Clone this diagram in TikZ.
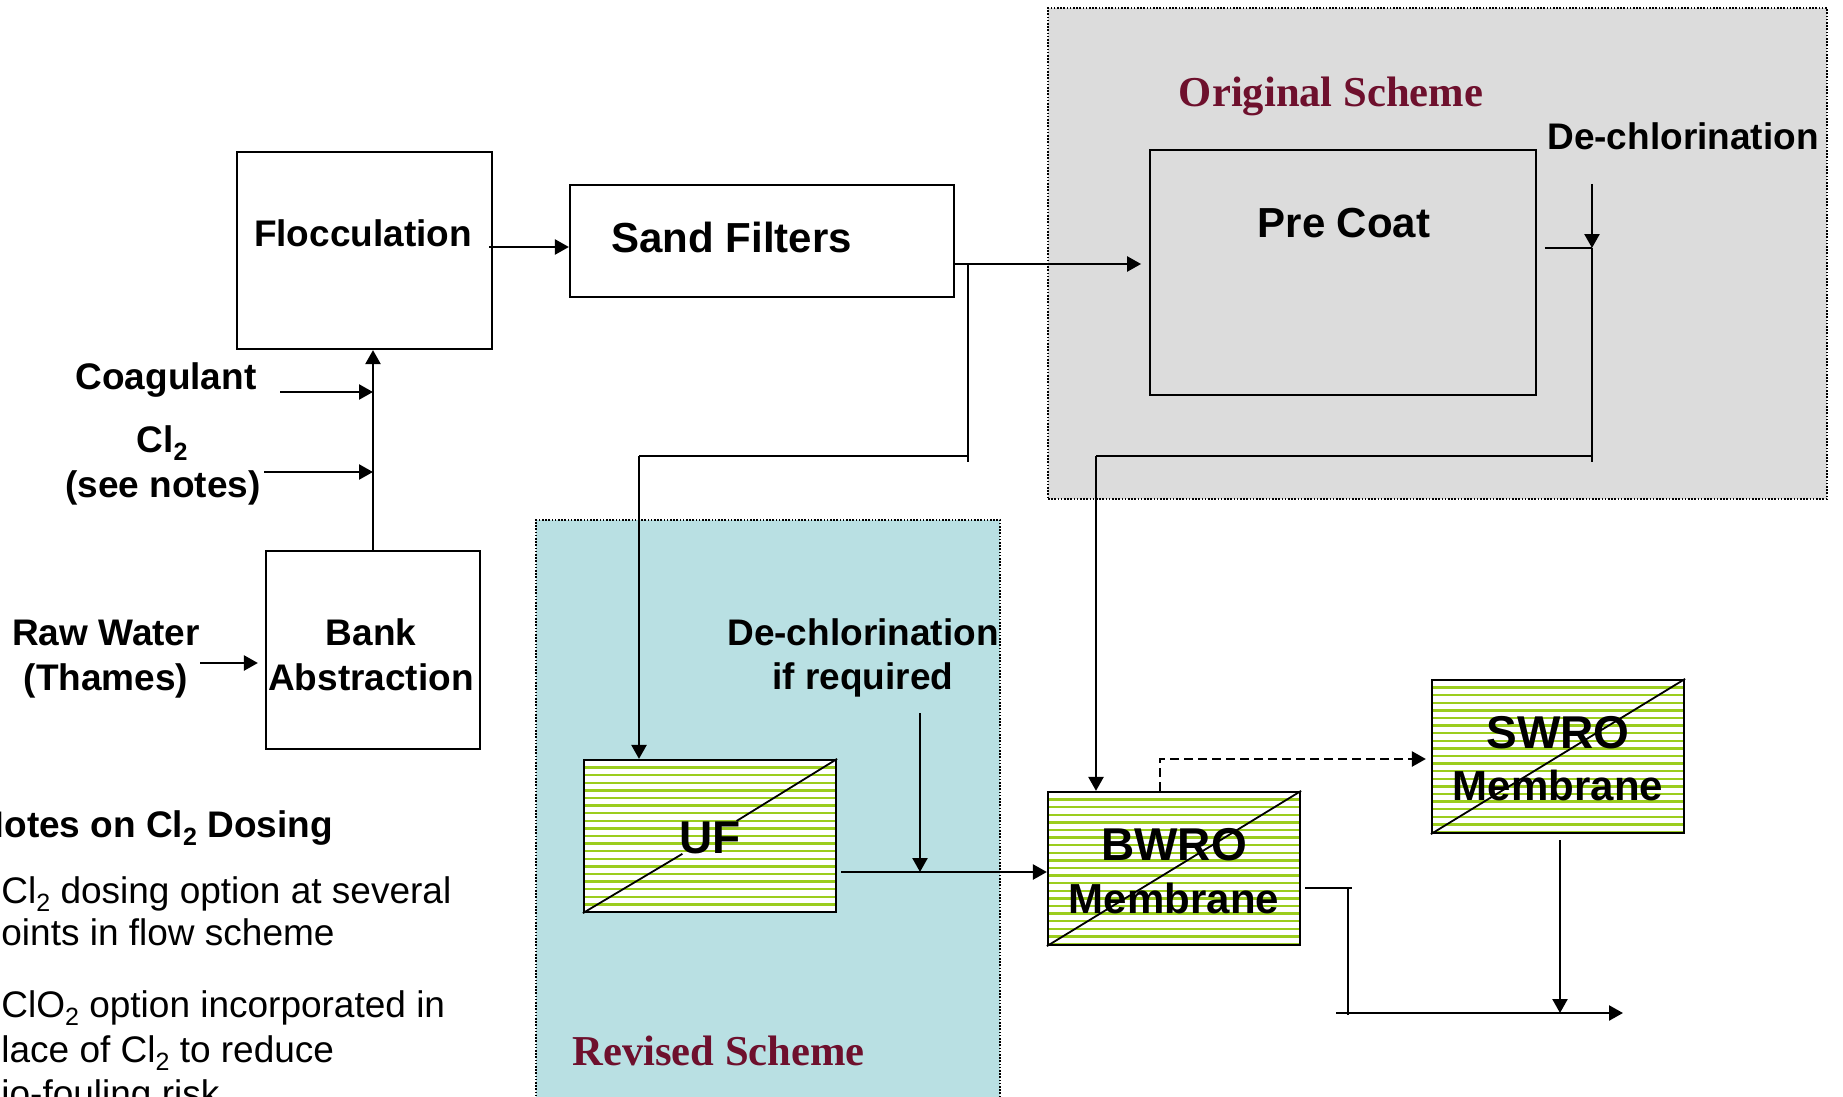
\documentclass[tikz,border=0pt]{standalone}
\usepackage{fontspec}
\setmainfont{Liberation Sans}
\newfontfamily\schemefont{Liberation Serif}
\usetikzlibrary{arrows.meta,fit}
\definecolor{graybg}{RGB}{220,220,220}
\definecolor{bluebg}{RGB}{185,224,227}
\definecolor{stripecol}{RGB}{155,205,30}
\definecolor{schemered}{RGB}{110,16,45}
\newcommand{\subtwo}{\raisebox{-4pt}{\fontsize{12.5}{12.5}\selectfont 2}}
\begin{document}
\begin{tikzpicture}[x=0.5pt,y=-0.5pt,
  box/.style={draw, line width=1.1pt, inner sep=0pt},
  membrane/.style={box, fill=white, path picture={
      \foreach \k in {1,...,21}{
        \draw[stripecol, line width=1.2pt]
          ([yshift=-\k*3.8pt]path picture bounding box.north west) -- ++(300,0);}
    }},
  region/.style={inner sep=0pt, draw, line width=0.8pt, dash pattern=on 0.8pt off 0.8pt},
  conn/.style={line width=1.2pt},
  arr/.style={conn, -{Triangle[length=7pt,width=7.5pt]}},
  diag/.style={line width=0.9pt},
  lbl/.style={font=\fontsize{18.5}{22}\selectfont\bfseries, inner sep=0pt, anchor=base},
  lblB/.style={font=\fontsize{21}{25}\selectfont\bfseries, inner sep=0pt, anchor=base},
  lblC/.style={font=\fontsize{23}{27}\selectfont\bfseries, inner sep=0pt, anchor=base},
  notetxt/.style={font=\fontsize{18.5}{22}\selectfont, inner sep=0pt, anchor=base west},
  notehead/.style={font=\fontsize{18.5}{22}\selectfont\bfseries, inner sep=0pt, anchor=base west},
  schemetxt/.style={font=\schemefont\fontsize{21.3}{25}\selectfont\bfseries, text=schemered, inner sep=0pt, anchor=base}
]
\path[use as bounding box] (0,0) rectangle (1843,1097);
\clip (0,0) rectangle (1843,1097);
\fill[white] (0,0) rectangle (1843,1097);

% scheme regions
\node[region, fill=graybg, fit={(1048,8) (1827,499)}] (orig) {};
\node[region, fill=bluebg, fit={(536,520) (1000,1110)}] (rev) {};

% process boxes
\node[box, fit={(237,152) (492,349)}] (floc) {};
\node[box, fit={(570,185) (954,297)}] (sand) {};
\node[box, line width=0.9pt, fit={(1150,150) (1536,395)}] (pre) {};
\node[box, fit={(266,551) (480,749)}] (bank) {};
\node[membrane, fit={(584,760) (836,912)}] (uf) {};
\node[membrane, fit={(1048,792) (1300,945)}] (bwro) {};
\node[membrane, fit={(1432,680) (1684,833)}] (swro) {};

% labels in membrane boxes (needed for diagonals)
\node[lblC] (uflbl) at (710,853) {UF};
\draw[diag] (uf.south west) -- (uflbl);
\draw[diag] (uf.north east) -- (uflbl);
\draw[diag] (bwro.south west) -- (bwro.north east);
\draw[diag] (swro.south west) -- (swro.north east);

% connectors
\draw[arr] (bank.north) -- (bank.north |- floc.south);
\coordinate (coagS) at (280,392);
\draw[arr] (coagS) -- (coagS -| bank.north);
\coordinate (clS) at (264,472);
\draw[arr] (clS) -- (clS -| bank.north);
\coordinate (rawS) at (200,663);
\draw[arr] (rawS) -- ([xshift=-3.5pt]rawS -| bank.west);
\draw[arr] ([xshift=-2pt]floc.east |- 0,247) -- (sand.west |- 0,247);

\coordinate (sfo) at (954,264);
\draw[arr] (sfo) -- ([xshift=-4pt]sfo -| pre.west);
\coordinate (s1) at (968,264);
\coordinate (s2) at (968,456);
\coordinate (s3) at (639,456);
\draw[conn] (s1) -- ([yshift=-3pt]s2);
\draw[conn] (s2) -- (s3);
\draw[arr] (s3) -- (s3 |- uf.north);

\coordinate (p1) at (1592,248);
\coordinate (p2) at (1592,456);
\coordinate (p3) at (1096,456);
\coordinate (dcS) at (1592,184);
\draw[conn] ([xshift=4pt]pre.east |- p1) -- (p1);
\draw[arr] (dcS) -- (p1);
\draw[conn] (p1) -- ([yshift=-3pt]p2);
\draw[conn] (p2) -- (p3);
\draw[arr] (p3) -- (p3 |- bwro.north);

\coordinate (u1) at (920,872);
\coordinate (dc2S) at (920,713);
\draw[arr] ([xshift=2pt]uf.east |- u1) -- (bwro.west |- u1);
\draw[arr] (dc2S) -- (u1);

\coordinate (d1) at (1160,759);
\draw[arr, dash pattern=on 4.5pt off 2.5pt] (d1 |- bwro.north) -- (d1) -- ([xshift=-2.5pt]d1 -| swro.west);

\coordinate (b1) at (1348,888);
\coordinate (b2) at (1348,1013);
\coordinate (out) at (1623,1013);
\draw[conn] ([xshift=2pt]bwro.east |- b1) -- ([xshift=2pt]b1);
\draw[conn] (b1) -- ([yshift=-1pt]b2);
\draw[arr] ([xshift=-6pt]b2) -- (out);
\coordinate (sw1) at (1560,840);
\draw[arr] (sw1) -- (sw1 |- out);

% texts
\node[lbl] (floclbl) at (363,246) {Flocculation};
\node[lblB, anchor=base west] (sandlbl) at (611,252) {Sand Filters};
\node[lblB] (prelbl) at (1344,237) {Pre Coat};
\node[schemetxt] (origlbl) at (1331,107) {Original Scheme};
\node[lbl] (dc1) at (1683,149) {De-chlorination};
\node[lbl] (coag) at (166,389) {Coagulant};
\node[lbl] (cl2) at (162,452) {Cl\subtwo};
\node[lbl] (seenotes) at (163,497) {(see notes)};
\node[lbl] (raw1) at (106,645) {Raw Water};
\node[lbl] (raw2) at (106,690) {(Thames)};
\node[lbl] (bank1) at (371,645) {Bank};
\node[lbl] (bank2) at (371,690) {Abstraction};
\node[lbl] (dc2a) at (863,645) {De-chlorination};
\node[lbl] (dc2b) at (863,689) {if required};
\node[lblC] (bwro1) at (1174,860) {BWRO};
\node[lblB] (bwro2) at (1174,913) {Membrane};
\node[lblC] (swro1) at (1558,748) {SWRO};
\node[lblB] (swro2) at (1558,800) {Membrane};
\node[schemetxt, anchor=base west] (revlbl) at (572,1065) {Revised Scheme};

% notes
\node[notehead] (n0) at (4,837) {\llap{N}otes on Cl\subtwo{} Dosing};
\node[notetxt] (n1) at (1,903) {Cl\subtwo{} dosing option at several};
\node[notetxt] (n2) at (1,945) {\llap{p}oints in flow scheme};
\node[notetxt] (n3) at (1,1017) {ClO\subtwo{} option incorporated in};
\node[notetxt] (n4) at (1,1062) {\llap{p}lace of Cl\subtwo{} to reduce};
\node[notetxt] (n5) at (1,1106) {\llap{b}io-fouling risk};
\end{tikzpicture}
\end{document}
